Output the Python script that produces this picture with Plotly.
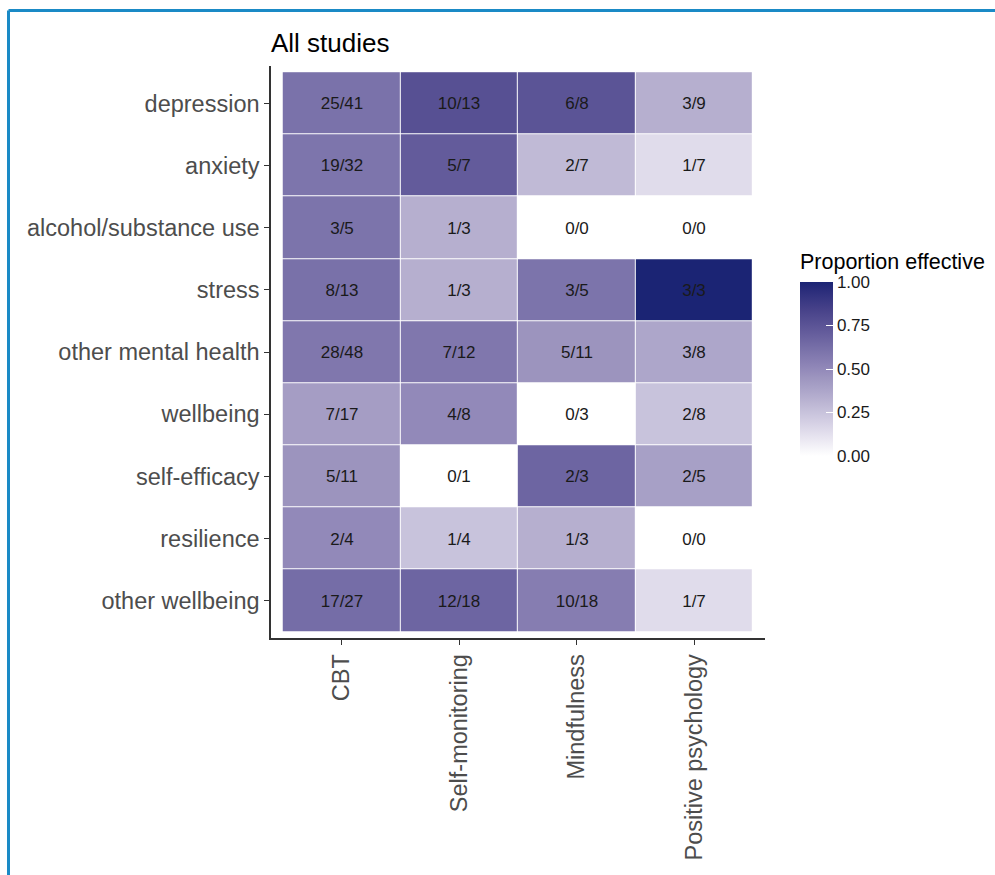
import plotly.graph_objects as go
import numpy as np

outcomes = ["depression", "anxiety", "alcohol/substance use", "stress",
            "other mental health", "wellbeing", "self-efficacy", "resilience",
            "other wellbeing"]
approaches = ["CBT", "Self-monitoring", "Mindfulness", "Positive psychology"]

effective_cbt = [25, 19, 3, 8, 28, 7, 5, 2, 17]
total_cbt = [41, 32, 5, 13, 48, 17, 11, 4, 27]
effective_sm = [10, 5, 1, 1, 7, 4, 0, 1, 12]
total_sm = [13, 7, 3, 3, 12, 8, 1, 4, 18]
effective_mf = [6, 2, 0, 3, 5, 0, 2, 1, 10]
total_mf = [8, 7, 0, 5, 11, 3, 3, 3, 18]
effective_pp = [3, 1, 0, 3, 3, 2, 2, 0, 1]
total_pp = [9, 7, 0, 3, 8, 8, 5, 0, 7]

effective = [effective_cbt, effective_sm, effective_mf, effective_pp]
totals = [total_cbt, total_sm, total_mf, total_pp]

# z[row][col]
z, txt = [], []
for r in range(len(outcomes)):
    zr, tr = [], []
    for c in range(len(approaches)):
        e, t = effective[c][r], totals[c][r]
        zr.append(e / t if t > 0 else 0.0)
        tr.append(f"{e}/{t}")
    z.append(zr)
    txt.append(tr)


# Lab interpolation white -> dark navy (like ggplot scale_fill_gradient)
def srgb_to_lin(c):
    c = c / 255.0
    return np.where(c <= 0.04045, c / 12.92, ((c + 0.055) / 1.055) ** 2.4)


def lin_to_srgb(c):
    c = np.clip(c, 0, 1)
    v = np.where(c <= 0.0031308, 12.92 * c, 1.055 * c ** (1 / 2.4) - 0.055)
    return np.clip(np.round(v * 255), 0, 255).astype(int)


M = np.array([[0.4124, 0.3576, 0.1805], [0.2126, 0.7152, 0.0722], [0.0193, 0.1192, 0.9505]])
Minv = np.linalg.inv(M)
WHITE = np.array([0.95047, 1.0, 1.08883])


def f(t):
    return np.where(t > 0.008856, np.cbrt(t), 7.787 * t + 16 / 116)


def finv(t):
    return np.where(t > 0.206893, t ** 3, (t - 16 / 116) / 7.787)


def rgb_to_lab(rgb):
    xyz = M @ srgb_to_lin(np.array(rgb, float)) / WHITE
    fx, fy, fz = f(xyz)
    return np.array([116 * fy - 16, 500 * (fx - fy), 200 * (fy - fz)])


def lab_to_rgb(lab):
    L, a, b = lab
    fy = (L + 16) / 116
    fx = fy + a / 500
    fz = fy - b / 200
    xyz = finv(np.array([fx, fy, fz])) * WHITE
    return lin_to_srgb(Minv @ xyz)


lo = rgb_to_lab([255, 255, 255])
hi = rgb_to_lab([27, 36, 116])
colorscale = []
for i in range(21):
    t = i / 20
    rgb = lab_to_rgb(lo + (hi - lo) * t)
    colorscale.append([t, f"rgb({rgb[0]},{rgb[1]},{rgb[2]})"])

FONT = "Liberation Sans, Arial, sans-serif"

L, R, T, B = 271, 230, 66, 237
W, H = 995, 875
pw, ph = W - L - R, H - T - B


def px(xp):
    return (xp - L) / pw


def py(yp):
    return (H - B - yp) / ph


fig = go.Figure(go.Heatmap(
    z=z,
    x=list(range(len(approaches))),
    y=list(range(len(outcomes))),
    text=txt,
    texttemplate="%{text}",
    textfont=dict(family=FONT, size=17, color="#1a1a1a"),
    colorscale=colorscale,
    zmin=0, zmax=1,
    xgap=1, ygap=1,
    hoverinfo="skip",
    colorbar=dict(
        x=px(800), xanchor="left", xref="paper",
        y=py(456), yanchor="bottom",
        len=174, lenmode="pixels",
        thickness=33, thicknessmode="pixels",
        outlinewidth=0, xpad=0, ypad=0,
        tickvals=[0, 0.25, 0.5, 0.75, 1.0],
        ticktext=["0.00", "0.25", "0.50", "0.75", "1.00"],
        ticks="inside", ticklen=7, tickcolor="white", tickwidth=1,
        tickfont=dict(family=FONT, size=17, color="#1a1a1a"),
    ),
))

axis_font = dict(family=FONT, size=23.5, color="#4d4d4d")
fig.update_xaxes(
    range=[-0.6, 3.6], tickvals=list(range(len(approaches))), ticktext=approaches,
    tickangle=-90, tickfont=axis_font, showgrid=False, zeroline=False,
    showline=True, linecolor="#333333", linewidth=1.5,
    ticks="outside", ticklen=5, tickcolor="#333333", tickwidth=1.2,
)
fig.update_yaxes(
    range=[8.6, -0.6], tickvals=list(range(len(outcomes))), ticktext=outcomes,
    tickfont=axis_font, showgrid=False, zeroline=False,
    showline=True, linecolor="#333333", linewidth=1.5,
    ticks="outside", ticklen=5, tickcolor="#333333", tickwidth=1.2,
)

fig.update_layout(
    width=W, height=H,
    margin=dict(l=L, r=R, t=T, b=B, autoexpand=False),
    paper_bgcolor="white", plot_bgcolor="white",
    title=dict(text="All studies", x=0, xanchor="left", xref="paper",
               y=1 - 43 / H, yanchor="middle",
               font=dict(family=FONT, size=26, color="black")),
    annotations=[
        dict(text="Proportion effective", xref="paper", yref="paper",
             x=px(798), y=py(262), xanchor="left", yanchor="middle",
             showarrow=False, font=dict(family=FONT, size=21.5, color="black")),
    ],
    shapes=[
        dict(type="line", xref="paper", yref="paper", x0=px(8.5), x1=px(1000),
             y0=py(10.5), y1=py(10.5), line=dict(color="#1a8ac6", width=3)),
        dict(type="line", xref="paper", yref="paper", x0=px(8.5), x1=px(8.5),
             y0=py(10.5), y1=py(880), line=dict(color="#1a8ac6", width=3)),
    ],
)

fig.write_html("out.html")
